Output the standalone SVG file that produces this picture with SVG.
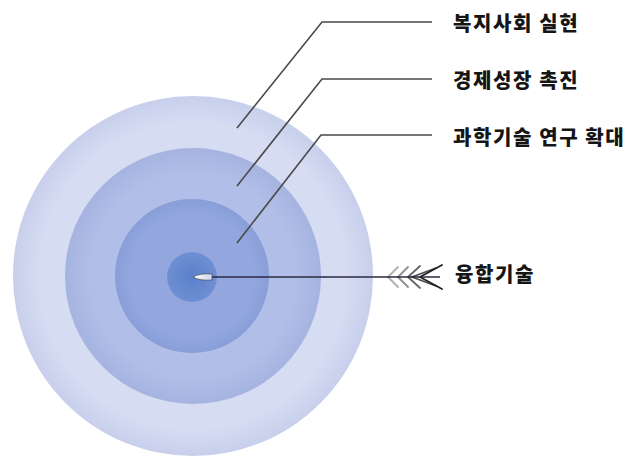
<svg xmlns="http://www.w3.org/2000/svg" width="630" height="458" viewBox="0 0 630 458">
<style>
.lead{fill:none;stroke:#4a4a4a;stroke-width:1.6}
.lbl{font-family:"Noto Sans CJK KR","Noto Sans",sans-serif;font-weight:900;font-size:20px;letter-spacing:1.6px;fill:#151515}
.fth{fill:none;stroke:#222;stroke-width:1.8;stroke-linecap:round;stroke-linejoin:round}
</style>
<defs>
<radialGradient id="g1" cx="0.5" cy="0.5" r="0.5">
<stop offset="0.85" stop-color="#d6dcf2"/><stop offset="1" stop-color="#c8cfec"/>
</radialGradient>
<radialGradient id="g2" cx="0.5" cy="0.5" r="0.5">
<stop offset="0.8" stop-color="#b1bee7"/><stop offset="1" stop-color="#a5b3e0"/>
</radialGradient>
<radialGradient id="g3" cx="0.5" cy="0.5" r="0.5">
<stop offset="0.8" stop-color="#93a7de"/><stop offset="1" stop-color="#899dd8"/>
</radialGradient>
<radialGradient id="g4" cx="0.5" cy="0.5" r="0.5">
<stop offset="0" stop-color="#5a80cc"/><stop offset="1" stop-color="#6e8fd3"/>
</radialGradient>
<linearGradient id="tip" x1="0" y1="0" x2="1" y2="0">
<stop offset="0" stop-color="#ffffff"/><stop offset="1" stop-color="#cfd6ea"/>
</linearGradient>
</defs>
<g id="ring-outer"><circle cx="193" cy="276" r="180" fill="url(#g1)"/></g>
<g id="ring-2"><circle cx="193" cy="276" r="128" fill="url(#g2)"/></g>
<g id="ring-3"><circle cx="192" cy="276" r="77" fill="url(#g3)"/></g>
<g id="core"><circle cx="192" cy="277" r="25" fill="url(#g4)"/></g>
<g id="connectors">
<polyline class="lead" points="237,128 322,22 432,22"/>
<polyline class="lead" points="237,186 322,79 432,79"/>
<polyline class="lead" points="237,243 321,135 432,135"/>
<line x1="205" y1="277" x2="440" y2="277" stroke="#2a2a40" stroke-width="1.6"/>
<path d="M193,277 Q200,273 212,274 L212,280 Q200,281 193,277 Z" fill="url(#tip)" stroke="#333" stroke-width="0.6"/>
<g id="fletching">
<polyline class="fth" points="398,267 388,277 398,287" opacity="0.35"/>
<polyline class="fth" points="408,267 398,277 408,287" opacity="0.5"/>
<polyline class="fth" points="420,266 408,277 420,288" opacity="0.7"/>
<polyline class="fth" points="442,265 420,277 442,289" opacity="1"/>
<polyline class="fth" points="436,268 412,277 436,286" opacity="0.8"/>
</g>
</g>
<g id="label-1"><text class="lbl" x="453" y="31">복지사회 실현</text></g>
<g id="label-2"><text class="lbl" x="453" y="88">경제성장 촉진</text></g>
<g id="label-3"><text class="lbl" x="453" y="145">과학기술 연구 확대</text></g>
<g id="label-4"><text class="lbl" x="455" y="282">융합기술</text></g>
</svg>
